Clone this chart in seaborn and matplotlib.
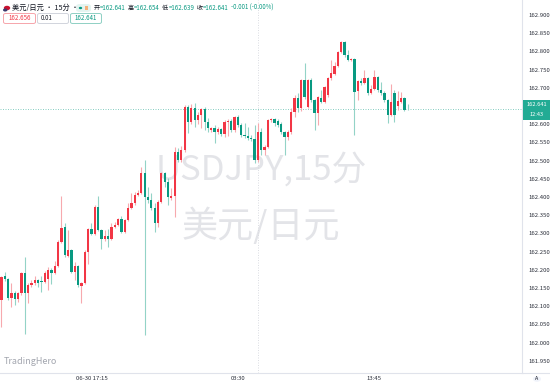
import numpy as np
import pandas as pd
import matplotlib
matplotlib.use("Agg")
import matplotlib.pyplot as plt
from matplotlib.patches import FancyBboxPatch, Rectangle, Circle
import seaborn as sns

# ---------------- data (USD/JPY, 15 min candles) ----------------
opens = [162.117, 162.183, 162.175, 162.122, 162.136, 162.120, 162.136, 162.191, 162.136, 162.158,
         162.164, 162.172, 162.169, 162.166, 162.175, 162.199, 162.191, 162.210, 162.276, 162.317,
         162.238, 162.254, 162.194, 162.210, 162.155, 162.164, 162.249, 162.312, 162.298, 162.372,
         162.309, 162.284, 162.293, 162.284, 162.317, 162.323, 162.339, 162.304, 162.337, 162.370,
         162.383, 162.405, 162.411, 162.466, 162.400, 162.392, 162.370, 162.328, 162.386, 162.466,
         162.441, 162.397, 162.403, 162.523, 162.501, 162.529, 162.647, 162.606, 162.644, 162.611,
         162.625, 162.642, 162.606, 162.584, 162.589, 162.578, 162.587, 162.573, 162.606, 162.609,
         162.584, 162.620, 162.598, 162.570, 162.567, 162.562, 162.559, 162.501, 162.578, 162.529,
         162.537, 162.611, 162.614, 162.609, 162.600, 162.578, 162.565, 162.578, 162.633, 162.672,
         162.644, 162.721, 162.647, 162.721, 162.666, 162.631, 162.672, 162.661, 162.680, 162.727,
         162.738, 162.760, 162.798, 162.826, 162.790, 162.776, 162.779, 162.691, 162.718, 162.713,
         162.727, 162.686, 162.696, 162.729, 162.694, 162.686, 162.666, 162.625, 162.686, 162.650,
         162.661, 162.672, 162.641]
highs = [162.183, 162.194, 162.177, 162.164, 162.142, 162.139, 162.194, 162.235, 162.164, 162.172,
         162.183, 162.175, 162.183, 162.197, 162.208, 162.205, 162.224, 162.282, 162.403, 162.328,
         162.309, 162.257, 162.221, 162.213, 162.166, 162.254, 162.315, 162.328, 162.378, 162.403,
         162.312, 162.309, 162.312, 162.328, 162.331, 162.342, 162.348, 162.339, 162.383, 162.411,
         162.414, 162.419, 162.482, 162.501, 162.427, 162.411, 162.383, 162.392, 162.468, 162.468,
         162.452, 162.425, 162.537, 162.534, 162.540, 162.653, 162.653, 162.655, 162.658, 162.633,
         162.644, 162.647, 162.617, 162.592, 162.598, 162.592, 162.589, 162.611, 162.614, 162.614,
         162.622, 162.625, 162.603, 162.603, 162.592, 162.570, 162.598, 162.603, 162.589, 162.543,
         162.614, 162.617, 162.617, 162.614, 162.606, 162.581, 162.584, 162.644, 162.680, 162.686,
         162.724, 162.768, 162.724, 162.727, 162.669, 162.677, 162.694, 162.705, 162.729, 162.776,
         162.771, 162.801, 162.828, 162.828, 162.804, 162.782, 162.782, 162.721, 162.727, 162.749,
         162.729, 162.707, 162.749, 162.732, 162.716, 162.691, 162.669, 162.710, 162.694, 162.691,
         162.688, 162.675, 162.654]
lows = [162.043, 162.169, 162.117, 162.098, 162.103, 162.111, 162.131, 162.024, 162.109, 162.153,
        162.158, 162.153, 162.139, 162.164, 162.144, 162.161, 162.188, 162.208, 162.273, 162.235,
        162.235, 162.191, 162.172, 162.153, 162.109, 162.161, 162.216, 162.295, 162.295, 162.306,
        162.257, 162.279, 162.262, 162.282, 162.315, 162.320, 162.301, 162.301, 162.334, 162.367,
        162.378, 162.403, 162.408, 162.021, 162.383, 162.364, 162.304, 162.317, 162.383, 162.427,
        162.378, 162.392, 162.345, 162.496, 162.496, 162.523, 162.576, 162.600, 162.592, 162.600,
        162.589, 162.584, 162.578, 162.578, 162.548, 162.573, 162.567, 162.565, 162.567, 162.578,
        162.578, 162.592, 162.565, 162.562, 162.556, 162.554, 162.493, 162.496, 162.515, 162.515,
        162.534, 162.606, 162.595, 162.592, 162.573, 162.515, 162.556, 162.573, 162.620, 162.633,
        162.636, 162.669, 162.644, 162.661, 162.584, 162.598, 162.658, 162.658, 162.675, 162.721,
        162.735, 162.757, 162.795, 162.784, 162.773, 162.773, 162.570, 162.666, 162.707, 162.710,
        162.680, 162.683, 162.694, 162.688, 162.680, 162.661, 162.603, 162.622, 162.606, 162.639,
        162.658, 162.636, 162.639]
closes = [162.180, 162.175, 162.122, 162.136, 162.120, 162.136, 162.191, 162.136, 162.158, 162.164,
          162.172, 162.164, 162.166, 162.191, 162.199, 162.191, 162.210, 162.276, 162.315, 162.241,
          162.254, 162.194, 162.210, 162.158, 162.164, 162.249, 162.312, 162.298, 162.372, 162.309,
          162.284, 162.293, 162.284, 162.317, 162.323, 162.339, 162.304, 162.337, 162.370, 162.383,
          162.405, 162.411, 162.466, 162.400, 162.392, 162.370, 162.328, 162.386, 162.466, 162.441,
          162.400, 162.403, 162.523, 162.501, 162.529, 162.647, 162.606, 162.644, 162.611, 162.625,
          162.642, 162.606, 162.589, 162.589, 162.578, 162.587, 162.573, 162.606, 162.609, 162.584,
          162.620, 162.598, 162.570, 162.567, 162.562, 162.559, 162.501, 162.578, 162.529, 162.537,
          162.611, 162.614, 162.603, 162.598, 162.578, 162.565, 162.578, 162.633, 162.672, 162.644,
          162.721, 162.675, 162.721, 162.666, 162.631, 162.675, 162.661, 162.702, 162.727, 162.740,
          162.760, 162.798, 162.826, 162.790, 162.776, 162.779, 162.688, 162.718, 162.713, 162.727,
          162.686, 162.696, 162.729, 162.694, 162.686, 162.666, 162.625, 162.661, 162.625, 162.664,
          162.672, 162.639, 162.641]

time_labels = ["06-30 17:15", "03:30", "13:45"]
time_label_idx = [27, 71, 112]
price_ticks = [161.95, 162.00, 162.05, 162.10, 162.15, 162.20, 162.25, 162.30, 162.35, 162.40,
               162.45, 162.50, 162.55, 162.60, 162.65, 162.70, 162.75, 162.80, 162.85, 162.90]
last_price = 162.641
session_idx = 77
header_ohlc = [("开", "=162.641"), ("高", "=162.654"), ("低", "=162.639"), ("收", "=162.641")]
header_change = "-0.001 (-0.00%)"
box_values = ["162.656", "0.01", "162.641"]

# ---------------- style ----------------
sns.set_theme(style="white")
FONT = ["Noto Sans CJK SC", "DejaVu Sans"]
plt.rcParams["font.family"] = FONT

RED = "#f23645"
GREEN = "#089981"
RED_W = "#f7a9ae"
GREEN_W = "#93d3c7"
DARK = "#131722"
AXC = "#e0e3eb"

W, H = 550, 384
fig = plt.figure(figsize=(W / 100, H / 100), dpi=100)
fig.patch.set_facecolor("white")


def fx(px):
    return px / W


def fy(py):
    return 1 - py / H


plot_w, plot_h = 522, 373
ax = fig.add_axes([0, fy(plot_h), fx(plot_w), plot_h / H])
ax.set_facecolor("white")

df = pd.DataFrame({"open": opens, "high": highs, "low": lows, "close": closes})
df["idx"] = np.arange(len(df))
df["up"] = df["close"] > df["open"]

body_col = np.where(df["up"], RED, GREEN)
wick_col = np.where(df["up"], RED_W, GREEN_W)

ax.vlines(df["idx"], df["low"], df["high"], colors=wick_col, linewidth=0.8, zorder=3)
heights = np.maximum((df["close"] - df["open"]).abs(), 0.0012)
bottoms = np.minimum(df["open"], df["close"])
ax.bar(df["idx"], heights, bottom=bottoms, width=0.68, color=body_col, linewidth=0, zorder=4)

ax.axhline(last_price, color=GREEN, alpha=0.55, linewidth=0.6, linestyle=(0, (1.2, 1.8)), zorder=2)
ax.axvline(session_idx, color="#d6d8de", linewidth=0.6, linestyle=(0, (1.2, 1.8)), zorder=1)

ax.set_xlim(-0.45, 156.3)
ax.set_ylim(161.9165, 162.941)

ax.yaxis.tick_right()
ax.set_yticks(price_ticks)
ax.set_yticklabels([f"{v:.3f}" for v in price_ticks])
ax.set_xticks(time_label_idx)
ax.set_xticklabels(time_labels)
ax.tick_params(axis="y", length=0, pad=4.5, labelsize=4.3, labelcolor="#2a2e39")
ax.tick_params(axis="x", length=0, pad=2.5, labelsize=4.3, labelcolor="#2a2e39")
ax.grid(False)
for s in ["top", "left"]:
    ax.spines[s].set_visible(False)
ax.spines["right"].set_color(AXC)
ax.spines["bottom"].set_color(AXC)
ax.spines["right"].set_linewidth(0.8)
ax.spines["bottom"].set_linewidth(0.8)

# watermark
ax.text(0.5, 1 - 170 / plot_h, "USDJPY,15分", transform=ax.transAxes, ha="center", va="center",
        fontsize=25, color="#e3e4e8", zorder=0, family=FONT)
ax.text(0.5, 1 - 226 / plot_h, "美元/日元", transform=ax.transAxes, ha="center", va="center",
        fontsize=26, color="#e3e4e8", zorder=0, family=FONT)

# bottom-left brand
fig.text(fx(4), fy(361), "TradingHero", fontsize=6.5, color="#a3a6af", va="center", ha="left",
         family=FONT)

# extend axis line to the right edge
fig.add_artist(plt.Line2D([fx(plot_w), 1], [fy(plot_h), fy(plot_h)], color=AXC, linewidth=0.8))

# "A" button bottom-right
fig.add_artist(Circle((fx(537), fy(379)), 4 / W, transform=fig.transFigure, facecolor="#f0f3fa",
                      edgecolor="none"))
fig.text(fx(537), fy(379), "A", fontsize=3.8, ha="center", va="center", color=DARK, family=FONT)

# price label on axis
fig.add_artist(Rectangle((fx(523), fy(120)), fx(27), 20 / H, transform=fig.transFigure,
                         facecolor="#22ab94", edgecolor="none", zorder=5))
fig.text(fx(536.5), fy(105), f"{last_price:.3f}", fontsize=4.1, ha="center", va="center",
         color="white", zorder=6, family=FONT)
fig.text(fx(536.5), fy(114.5), "12:43", fontsize=4.1, ha="center", va="center",
         color="white", zorder=6, family=FONT)

# header: flag
fig.add_artist(Circle((fx(7), fy(8)), 3.2 / W, transform=fig.transFigure, facecolor="#c8102e",
                      edgecolor="none", zorder=5))
fig.add_artist(Circle((fx(5.2), fy(10)), 2.2 / W, transform=fig.transFigure, facecolor="#3c3b6e",
                      edgecolor="none", zorder=6))
fig.text(fx(12.5), fy(8), "美元/日元 · 15分 ·", fontsize=5.2, color=DARK, va="center", ha="left",
         family=FONT)
# status pill
fig.add_artist(FancyBboxPatch((fx(76), fy(12)), fx(15), 8 / H, boxstyle="round,pad=0,rounding_size=0.007",
                              transform=fig.transFigure, facecolor="#e4f4f0", edgecolor="none", zorder=5))
fig.add_artist(Circle((fx(80.5), fy(8)), 1.7 / W, transform=fig.transFigure, facecolor=GREEN,
                      edgecolor="none", zorder=6))
fig.add_artist(Rectangle((fx(85), fy(9.6)), fx(3.2), 3.2 / H, transform=fig.transFigure,
                         facecolor="#f5b07a", edgecolor="none", zorder=6))

renderer = fig.canvas.get_renderer()
x = 93.5
for lab, val in header_ohlc:
    t = fig.text(fx(x), fy(8), lab, fontsize=4.4, color=DARK, va="center", ha="left", family=FONT)
    x += t.get_window_extent(renderer).width
    t = fig.text(fx(x), fy(8), val, fontsize=4.4, color=GREEN, va="center", ha="left", family=FONT)
    x += t.get_window_extent(renderer).width + 2.5
fig.text(fx(x), fy(8), header_change, fontsize=4.4, color=GREEN, va="center", ha="left", family=FONT)

# value boxes
box_specs = [(3.5, 35.5, "#f6a5ab", RED), (37.5, 68.5, "#d1d4dc", DARK), (70.5, 101.5, "#8fd0c4", GREEN)]
for (x0, x1, ec, tc), val in zip(box_specs, box_values):
    fig.add_artist(FancyBboxPatch((fx(x0), fy(23.5)), fx(x1 - x0), 10 / H,
                                  boxstyle="round,pad=0,rounding_size=0.004",
                                  transform=fig.transFigure, facecolor="white", edgecolor=ec,
                                  linewidth=0.7, zorder=5))
    if val == "0.01":
        fig.text(fx(x0 + 3.5), fy(18.5), val, fontsize=4.4, color=tc, va="center", ha="left",
                 zorder=6, family=FONT)
    else:
        fig.text(fx((x0 + x1) / 2), fy(18.5), val, fontsize=4.4, color=tc, va="center", ha="center",
                 zorder=6, family=FONT)

fig.savefig("out.png", dpi=100, facecolor="white")
